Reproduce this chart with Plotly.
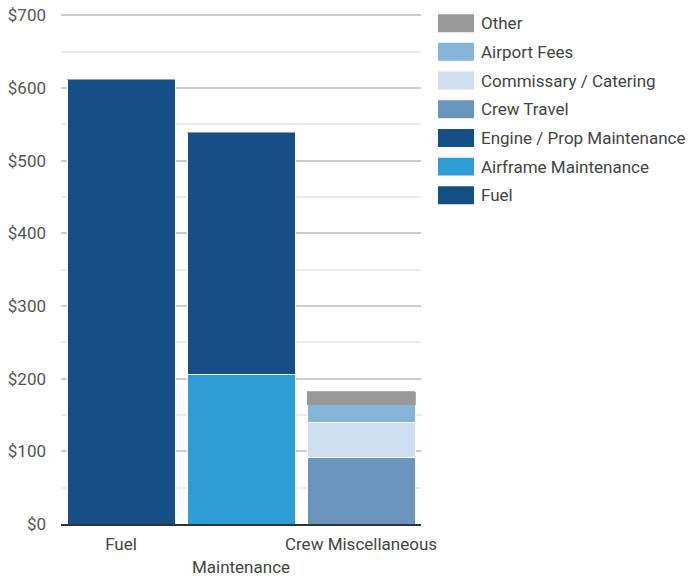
import plotly.graph_objects as go

categories = ["Fuel", "Maintenance", "Crew Miscellaneous"]
tick_labels = ["Fuel", "<br>Maintenance", "Crew Miscellaneous"]

series_names = ["Fuel", "Airframe Maintenance", "Engine / Prop Maintenance",
                "Crew Travel", "Commissary / Catering", "Airport Fees", "Other"]
fuel = [612, None, None]
airframe = [None, 206, None]
engine = [None, 332, None]
crew_travel = [None, None, 91]
commissary = [None, None, 49]
airport_fees = [None, None, 24]
other = [0, 0, 18]
colors = ["#164f86", "#2e9dd6", "#164f86", "#6a96bd", "#cddff0", "#85b5d8", "#999999"]
line_colors = ["white", "white", "white", "white", "white", "white", "#999999"]
line_widths = [1, 1, 1, 1, 1, 1, 0.8]

y_ticks = [0, 100, 200, 300, 400, 500, 600, 700]
y_tick_labels = ["$" + str(v) for v in y_ticks]
y_minor = [50, 150, 250, 350, 450, 550, 650]

values = [fuel, airframe, engine, crew_travel, commissary, airport_fees, other]

fig = go.Figure()
for name, vals, col, lc, lw in zip(series_names, values, colors, line_colors, line_widths):
    fig.add_trace(go.Bar(x=categories, y=vals, name=name, showlegend=False,
                         marker=dict(color=col, line=dict(color=lc, width=lw))))

# custom legend (larger swatches, like the reference)
y_max = 703
px_per_unit = 509.0 / 700
plot_h = y_max * px_per_unit
plot_w = 360.0
bottom_px = 524.0
left_px = 61.0
sw_x0 = (438 - left_px) / plot_w
sw_x1 = (474 - left_px) / plot_w
txt_x = (479 - left_px) / plot_w
first_center = 23.0
step = 28.7
legend_items = list(zip(series_names, colors))[::-1]
for i, (name, col) in enumerate(legend_items):
    cy = first_center + i * step
    y0 = (bottom_px - (cy + 9)) / plot_h
    y1 = (bottom_px - (cy - 9)) / plot_h
    fig.add_shape(type="rect", xref="paper", yref="paper", x0=sw_x0, x1=sw_x1,
                  y0=y0, y1=y1, fillcolor=col, line=dict(width=0))
    fig.add_annotation(xref="paper", yref="paper", x=txt_x, y=(bottom_px - cy) / plot_h,
                       text=name, showarrow=False, xanchor="left", yanchor="middle",
                       font=dict(size=17, color="#444444"))

font = "Roboto"
top_px = bottom_px - plot_h
fig.update_layout(
    width=690, height=580,
    barmode="stack", bargap=0.1,
    plot_bgcolor="white", paper_bgcolor="white",
    margin=dict(l=left_px, r=690 - left_px - plot_w, t=top_px, b=580 - bottom_px,
                autoexpand=False),
    font=dict(family=font, size=17, color="#555555"),
    showlegend=False,
    hovermode=False,
)
fig.update_xaxes(tickmode="array", tickvals=categories, ticktext=tick_labels,
                 tickangle=0,
                 showline=True, linecolor="#333333", linewidth=2, ticks="",
                 automargin=False, ticklabelstandoff=4,
                 tickfont=dict(size=17, color="#444444"))
fig.update_yaxes(range=[0, y_max], tickmode="array", tickvals=y_ticks,
                 ticktext=y_tick_labels, showgrid=True,
                 gridcolor="#cccccc", gridwidth=2, zeroline=False, ticks="",
                 automargin=False, ticklabelstandoff=14,
                 tickfont=dict(size=17, color="#555555"),
                 minor=dict(tickmode="array", tickvals=y_minor,
                            showgrid=True, gridcolor="#ebebeb", gridwidth=2))
fig.write_html("out.html", config={"displayModeBar": False},
               post_script="document.body.style.margin='0';")
